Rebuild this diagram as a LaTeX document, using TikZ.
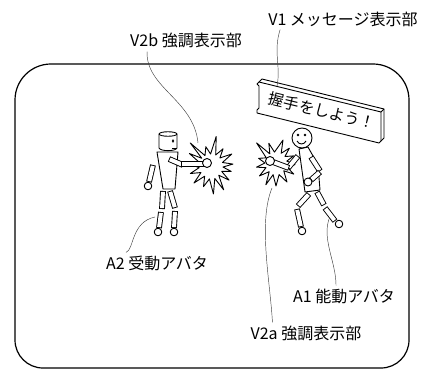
\documentclass[tikz,border=0pt]{standalone}
\usepackage{fontspec}
\newfontfamily\jp{Noto Sans CJK JP}
\usetikzlibrary{calc}
\begin{document}
\begin{tikzpicture}[x=1pt,y=-1pt,line join=round,
  frame/.style={line width=1.2pt},
  fig/.style={line width=0.9pt,fill=white},
  leader/.style={line width=0.45pt,black!75},
  lbl/.style={font=\jp\fontsize{16}{16}\selectfont,inner sep=0pt},
  signtext/.style={font=\jp\fontsize{15.5}{15.5}\selectfont,inner sep=0pt}]
% limb: a closed slim rectangle between two points
\newcommand\limbseg[2]{%
  \draw[line width=5.8pt] #1 -- #2;
  \draw[white,line width=4pt,shorten <=0.9pt,shorten >=0.9pt] #1 -- #2;}
\useasboundingbox (0,0) rectangle (430,371);

% outer frame
\draw[frame,rounded corners=28pt] (15,200) -- (15,368) -- (409,368) -- (409,200)
  [rounded corners=36pt] -- (409,64) -- (15,64) -- cycle;

% message board
\draw[fig] (259,82) -- (381,112) -- (381,141) -- (379,143) -- (257,113)
  -- (257,110) -- (259,108) -- (259,86) -- (257,84) -- cycle;
\draw[line width=0.9pt] (259,82) -- (262,79) -- (384,109) -- (384,138) -- (381,141);
\draw[line width=0.9pt] (381,112) -- (384,109);
\node[signtext,rotate=-13.6] (msg) at (322,111) {握手をしよう！};

% ---- passive avatar (robot) ----
% left arm
\limbseg{(153,165)}{(149,182)}
\draw[fig] (148,186) circle[radius=3.8pt];
% legs
\limbseg{(163,191)}{(162,209)}
\limbseg{(161,212)}{(159,228)}
\draw[fig] (158,232) circle[radius=3.8pt];
\limbseg{(170,191)}{(175,208)}
\limbseg{(175,211)}{(174,228)}
\draw[fig] (174,232) circle[radius=3.8pt];
% body
\draw[fig] (157,152) -- (178,152) -- (175,189) -- (163,189) -- cycle;
% head
\draw[fig] (159,134) -- (159,148) .. controls (160,151.5) and (176,151.5) .. (177,148)
  -- (177,134) .. controls (176,131) and (160,131) .. (159,134) -- cycle;
\draw[line width=0.9pt] (159,134) .. controls (160,137) and (176,137) .. (177,134);
\fill (173,141) ellipse[x radius=1.2pt,y radius=1.8pt];
\draw[line width=0.9pt] (172,148.5) -- (176,148.5);

% emphasis mark V2b
\begin{scope}[shift={(211,166)}]
\draw[fig] (-80:30) -- (-67:12) -- (-55:21) -- (-42:12) -- (-30:24) -- (-17:12)
  -- (-5:22) -- (5:12) -- (15:21) -- (27:12) -- (38:23) -- (50:12) -- (62:27)
  -- (73:13) -- (85:28) -- (97:13) -- (110:22) -- (122:12) -- (135:24)
  -- (147:12) -- (160:22) -- (172:12) -- (185:21) -- (197:12) -- (210:25)
  -- (220:12) -- (228:31) -- (240:12) -- (255:20) -- (268:12) -- cycle;
\end{scope}
% extended arm
\limbseg{(169,159)}{(183,165)}
\limbseg{(181,164)}{(204,164)}
\draw[fig] (207,163) circle[radius=4.5pt];

% ---- active avatar (stick figure) ----
% emphasis mark V2a
\begin{scope}[shift={(276,163)}]
\draw[fig] (-73:24) -- (-62:11) -- (-48:20) -- (-36:11) -- (-22:19) -- (-10:11)
  -- (5:19) -- (18:11) -- (32:21) -- (45:11) -- (60:22) -- (75:12) -- (90:23)
  -- (104:12) -- (115:24) -- (128:11) -- (142:21) -- (155:11) -- (168:20)
  -- (180:11) -- (195:18) -- (208:11) -- (226:28) -- (236:11) -- (250:21)
  -- (262:11) -- cycle;
\end{scope}
% legs
\limbseg{(309,194)}{(298,206)}
\limbseg{(297,209)}{(301,227)}
\draw[fig] (302,231) circle[radius=3.8pt];
\limbseg{(317,192)}{(324,205)}
\limbseg{(325,208)}{(335,221)}
\draw[fig] (339,224) circle[radius=3.8pt];
% body
\draw[fig] (299,149) -- (308,147) -- (318,165) -- (320,190) -- (305,192) -- cycle;
% head
\draw[fig] (302,138) circle[radius=10pt];
\fill (298,135) circle[radius=1.3pt] (305,135) circle[radius=1.3pt];
\draw[line width=0.9pt] (297,141) .. controls (299,145) and (304,145) .. (306,141);
% rear arm
\limbseg{(311,157)}{(320,171)}
\limbseg{(320,172)}{(311,180)}
\draw[fig] (308,182) circle[radius=4pt];
% extended arm
\limbseg{(298,156)}{(288,168)}
\limbseg{(289,168)}{(273,162)}
\draw[fig] (270,161) circle[radius=4.5pt];

% labels
\node[lbl] (v1) at (343,19) {V1 メッセージ表示部};
\node[lbl] (v2b) at (186,40) {V2b 強調表示部};
\node[lbl] (a2) at (157,263) {A2 受動アバタ};
\node[lbl] (a1) at (344,296) {A1 能動アバタ};
\node[lbl] (v2a) at (306,333) {V2a 強調表示部};

% leader end points
\coordinate (p1) at (277,86);
\coordinate (p2b) at (198,143);
\coordinate (p2a) at (272,188);
\coordinate (pa1) at (329,219);
\coordinate (pa2) at (155,217);

\draw[leader] ($(v1.south west)+(12,3)$) .. controls (273,52) and (281,66) .. (p1);
\draw[leader] ($(v2b.south west)+(17,4)$) .. controls (146,88) and (194,100) .. (p2b);
\draw[leader] ($(a2.north west)+(20,-3)$) .. controls (134,250) and (131,222) .. (pa2);
\draw[leader] ($(v2a.north west)+(22,-3)$) .. controls (270,280) and (258,222) .. (p2a);
\draw[leader] ($(a1.north west)+(43,-3)$) .. controls (336,262) and (322,240) .. (pa1);
\end{tikzpicture}
\end{document}
